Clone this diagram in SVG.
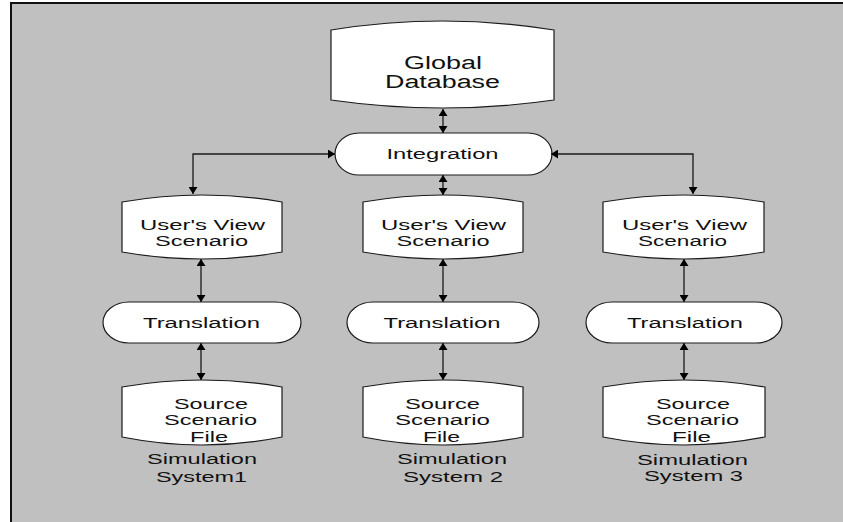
<svg xmlns="http://www.w3.org/2000/svg" width="843" height="522" viewBox="0 0 843 522">
<style>
.shape{fill:#ffffff;stroke:#1a1a1a;stroke-width:1.2}
.t{font-family:"Liberation Sans",Arial,sans-serif;font-size:15.5px;fill:#111111;text-anchor:middle}
.tb{font-size:18px}
.c{fill:none;stroke:#1a1a1a;stroke-width:1.3}
</style>
<defs>
<marker id="ah" viewBox="0 0 10 10" refX="10" refY="5" markerWidth="7" markerHeight="9" markerUnits="userSpaceOnUse" orient="auto-start-reverse" preserveAspectRatio="none">
<path d="M0,0 L10,5 L0,10 Z" fill="#000000"/>
</marker>
</defs>
<rect x="11" y="3" width="845" height="530" fill="#c0c0c0" stroke="#111111" stroke-width="2"/>

<g id="global-database">
<path class="shape" d="M331,30 Q442.5,12 554,30 L554,100 Q442.5,116 331,100 Z"/>
<text class="t tb" x="443" y="69" textLength="78" lengthAdjust="spacingAndGlyphs">Global</text>
<text class="t tb" x="442.5" y="88" textLength="115" lengthAdjust="spacingAndGlyphs">Database</text>
</g>

<g id="integration">
<rect class="shape" x="335" y="133" width="217" height="42" rx="24" ry="21"/>
<text class="t" x="442.5" y="158.5" textLength="112" lengthAdjust="spacingAndGlyphs">Integration</text>
</g>

<g id="users-view-1">
<path class="shape" d="M122,202 Q202,188 282,202 L282,252 Q202,266 122,252 Z"/>
<text class="t" x="202.5" y="230" textLength="125" lengthAdjust="spacingAndGlyphs">User's View</text>
<text class="t" x="201.5" y="245.5" textLength="93" lengthAdjust="spacingAndGlyphs">Scenario</text>
</g>
<g id="users-view-2">
<path class="shape" d="M363,202 Q443,188 523,202 L523,252 Q443,266 363,252 Z"/>
<text class="t" x="443.5" y="230" textLength="125" lengthAdjust="spacingAndGlyphs">User's View</text>
<text class="t" x="443" y="245.5" textLength="93" lengthAdjust="spacingAndGlyphs">Scenario</text>
</g>
<g id="users-view-3">
<path class="shape" d="M603,202 Q683.5,188 764,202 L764,252 Q683.5,266 603,252 Z"/>
<text class="t" x="684.5" y="230" textLength="125" lengthAdjust="spacingAndGlyphs">User's View</text>
<text class="t" x="682.5" y="245.5" textLength="89" lengthAdjust="spacingAndGlyphs">Scenario</text>
</g>

<g id="translation-1">
<rect class="shape" x="103" y="302" width="198" height="41" rx="26" ry="20.5"/>
<text class="t" x="201.5" y="327.5" textLength="117" lengthAdjust="spacingAndGlyphs">Translation</text>
</g>
<g id="translation-2">
<rect class="shape" x="347" y="302" width="192" height="41" rx="26" ry="20.5"/>
<text class="t" x="442" y="327.5" textLength="117" lengthAdjust="spacingAndGlyphs">Translation</text>
</g>
<g id="translation-3">
<rect class="shape" x="586" y="302" width="196" height="41" rx="26" ry="20.5"/>
<text class="t" x="685" y="327.5" textLength="116" lengthAdjust="spacingAndGlyphs">Translation</text>
</g>

<g id="source-1">
<path class="shape" d="M122,387 Q202,373 282,387 L282,437 Q202,453 122,437 Z"/>
<text class="t" x="211" y="409" textLength="74" lengthAdjust="spacingAndGlyphs">Source</text>
<text class="t" x="210.5" y="425" textLength="93" lengthAdjust="spacingAndGlyphs">Scenario</text>
<text class="t" x="209" y="441.5" textLength="38" lengthAdjust="spacingAndGlyphs">File</text>
</g>
<g id="source-2">
<path class="shape" d="M363,387 Q443,373 523,387 L523,437 Q443,453 363,437 Z"/>
<text class="t" x="442.5" y="409" textLength="75" lengthAdjust="spacingAndGlyphs">Source</text>
<text class="t" x="442.5" y="425" textLength="95" lengthAdjust="spacingAndGlyphs">Scenario</text>
<text class="t" x="441.5" y="441.5" textLength="37" lengthAdjust="spacingAndGlyphs">File</text>
</g>
<g id="source-3">
<path class="shape" d="M603,387 Q684,373 765,387 L765,437 Q684,453 603,437 Z"/>
<text class="t" x="693" y="408.5" textLength="74" lengthAdjust="spacingAndGlyphs">Source</text>
<text class="t" x="692.5" y="425" textLength="93" lengthAdjust="spacingAndGlyphs">Scenario</text>
<text class="t" x="691.5" y="441.5" textLength="39" lengthAdjust="spacingAndGlyphs">File</text>
</g>

<g id="label-system1">
<text class="t" x="202" y="464" textLength="110" lengthAdjust="spacingAndGlyphs">Simulation</text>
<text class="t" x="201.5" y="482" textLength="91" lengthAdjust="spacingAndGlyphs">System1</text>
</g>
<g id="label-system2">
<text class="t" x="452" y="464" textLength="110" lengthAdjust="spacingAndGlyphs">Simulation</text>
<text class="t" x="453" y="482" textLength="100" lengthAdjust="spacingAndGlyphs">System 2</text>
</g>
<g id="label-system3">
<text class="t" x="692.5" y="464.5" textLength="111" lengthAdjust="spacingAndGlyphs">Simulation</text>
<text class="t" x="693.5" y="481" textLength="99" lengthAdjust="spacingAndGlyphs">System 3</text>
</g>

<g id="connectors">
<path class="c" d="M443,109 L443,133" marker-start="url(#ah)" marker-end="url(#ah)"/>
<path class="c" d="M443,175 L443,195" marker-start="url(#ah)" marker-end="url(#ah)"/>
<path class="c" d="M335,154 L193,154 L193,194" marker-start="url(#ah)" marker-end="url(#ah)"/>
<path class="c" d="M551,154 L693,154 L693,194" marker-start="url(#ah)" marker-end="url(#ah)"/>
<path class="c" d="M201,259 L201,302" marker-start="url(#ah)" marker-end="url(#ah)"/>
<path class="c" d="M201,343 L201,380" marker-start="url(#ah)" marker-end="url(#ah)"/>
<path class="c" d="M443,259 L443,302" marker-start="url(#ah)" marker-end="url(#ah)"/>
<path class="c" d="M443,343 L443,380" marker-start="url(#ah)" marker-end="url(#ah)"/>
<path class="c" d="M684,259 L684,302" marker-start="url(#ah)" marker-end="url(#ah)"/>
<path class="c" d="M684,343 L684,380" marker-start="url(#ah)" marker-end="url(#ah)"/>
</g>
</svg>
